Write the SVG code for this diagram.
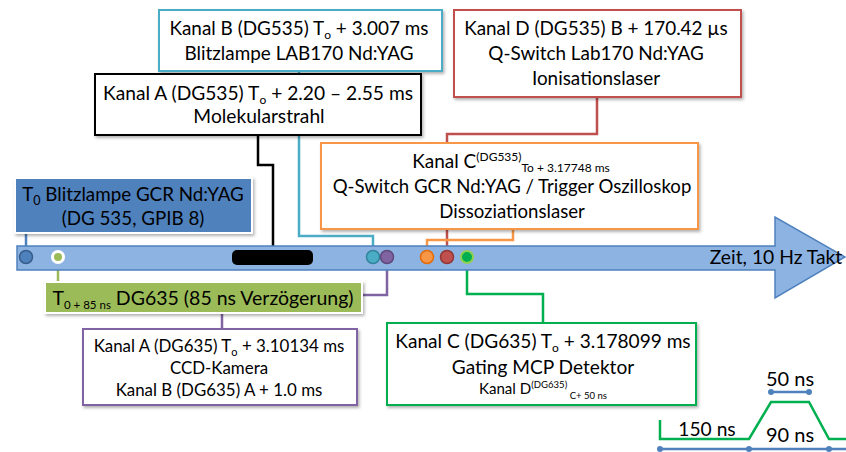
<svg xmlns="http://www.w3.org/2000/svg" width="846" height="452" viewBox="0 0 846 452" font-size="19">
<defs>
<filter id="sh" x="-5%" y="-10%" width="115%" height="130%"><feDropShadow dx="1.5" dy="2" stdDeviation="1.5" flood-color="#000" flood-opacity="0.3"/></filter>
</defs>
<style>
text{font-family:Lato,"Open Sans","Liberation Sans",sans-serif;fill:#000;text-anchor:middle}
.box{fill:#fff;stroke-width:2;filter:url(#sh)}
.c{fill:none;stroke-width:2.5}
.dot{stroke-width:1.5}
</style>
<rect width="846" height="452" fill="#fff"/>
<g id="connectors">
<path class="c" d="M26,233 V250" stroke="#4f81bd" stroke-width="2"/>
<path class="c" d="M58,264 V282" stroke="#9bbb59"/>
<path class="c" d="M258,135 V165 H273 V250" stroke="#000"/>
<path class="c" d="M299,71 V236 H373 V250" stroke="#4bacc6"/>
<path class="c" d="M597,97 V134 H447 V250" stroke="#c0504d"/>
<path class="c" d="M513,229 V240 H427 V250" stroke="#f79646"/>
<path class="c" d="M387,264 V295 H362" stroke="#8064a2"/>
<path class="c" d="M222,313 V329" stroke="#8064a2"/>
<path class="c" d="M467,264 V294 H543 V323" stroke="#00b050"/>
</g>
<g id="timeline">
<path d="M17,246 H775 V217 L845,257 L775,298 V270 H17 Z" fill="#8db3e2" stroke="#4f81bd" stroke-width="1.5"/>
<rect x="232" y="250" width="81" height="15" rx="5" fill="#000"/>
<text x="776" y="264" font-size="19.3">Zeit, 10 Hz Takt</text>
<circle class="dot" cx="26" cy="257" r="6.5" fill="#4f81bd" stroke="#385d8a"/>
<circle cx="58" cy="257" r="5.5" fill="#9bbb59" stroke="#fff" stroke-width="3"/>
<circle class="dot" cx="373" cy="257" r="6.5" fill="#4bacc6" stroke="#31849b"/>
<circle class="dot" cx="387" cy="257" r="6.5" fill="#8064a2" stroke="#5f497a"/>
<circle class="dot" cx="427" cy="257" r="6.5" fill="#f79646" stroke="#e36c09"/>
<circle class="dot" cx="447" cy="257" r="6.5" fill="#c0504d" stroke="#943634"/>
<circle cx="467" cy="257" r="6" fill="#00b050" stroke="#92d050" stroke-width="2"/>
</g>
<g id="kanalB535">
<rect class="box" x="159" y="10" width="283" height="61" stroke="#4bacc6"/>
<text x="299" y="35" font-size="18.9">Kanal B (DG535) T<tspan font-size="12" dy="4">o</tspan><tspan dy="-4"> + 3.007 ms</tspan></text>
<text x="299" y="60" font-size="18.9">Blitzlampe LAB170 Nd:YAG</text>
</g>
<g id="kanalA535">
<rect class="box" x="95" y="74" width="326" height="61" stroke="#000"/>
<text x="258" y="100" font-size="19.2">Kanal A (DG535) T<tspan font-size="12" dy="4">o</tspan><tspan dy="-4"> + 2.20 – 2.55 ms</tspan></text>
<text x="259" y="123" font-size="19.2">Molekularstrahl</text>
</g>
<g id="kanalD535">
<rect class="box" x="454" y="10" width="287" height="87" stroke="#c0504d"/>
<text x="596" y="35" font-size="18.9">Kanal D (DG535) B + 170.42 µs</text>
<text x="596" y="60" font-size="18.9">Q-Switch Lab170 Nd:YAG</text>
<text x="596" y="85" font-size="18.9">Ionisationslaser</text>
</g>
<g id="kanalC535">
<rect class="box" x="321" y="143" width="377" height="86" stroke="#f79646"/>
<text x="511" y="168" font-size="19">Kanal C<tspan font-size="12" dy="-7">(DG535)</tspan><tspan font-size="12" dy="11">To + 3.17748 ms</tspan></text>
<text x="512" y="193" font-size="18.6">Q-Switch GCR Nd:YAG / Trigger Oszilloskop</text>
<text x="512" y="218" font-size="18.6">Dissoziationslaser</text>
</g>
<g id="t0">
<rect x="15" y="178" width="237" height="55" fill="#4f81bd" stroke="#fff" stroke-width="2" filter="url(#sh)"/>
<text x="133" y="201" font-size="18.8">T<tspan font-size="12.5" dy="4">0</tspan><tspan dy="-4"> Blitzlampe GCR Nd:YAG</tspan></text>
<text x="133" y="225" font-size="18.8">(DG 535, GPIB 8)</text>
</g>
<g id="t085">
<rect x="45" y="282" width="317" height="31" fill="#9bbb59" stroke="#fff" stroke-width="2" filter="url(#sh)"/>
<text x="203" y="305" font-size="19.5">T<tspan font-size="11.5" dy="4">0 + 85 ns</tspan><tspan dy="-4"> DG635 (85 ns Verzögerung)</tspan></text>
</g>
<g id="kanalA635">
<rect class="box" x="83" y="329" width="274" height="76" stroke="#8064a2"/>
<text x="219" y="352" font-size="16.9">Kanal A (DG635) T<tspan font-size="11" dy="4">o</tspan><tspan dy="-4"> + 3.10134 ms</tspan></text>
<text x="219" y="374" font-size="16.9">CCD-Kamera</text>
<text x="219" y="396" font-size="16.9">Kanal B (DG635) A + 1.0 ms</text>
</g>
<g id="kanalC635">
<rect class="box" x="387" y="323" width="309" height="82" stroke="#00b050"/>
<text x="543" y="348" font-size="19.1">Kanal C (DG635) T<tspan font-size="12" dy="4">o</tspan><tspan dy="-4"> + 3.178099 ms</tspan></text>
<text x="543" y="374" font-size="19.1">Gating MCP Detektor</text>
<text x="543" y="394" font-size="15" textLength="128" lengthAdjust="spacingAndGlyphs">Kanal D<tspan font-size="9.5" dy="-6">(DG635)</tspan><tspan font-size="9.5" dy="11"> C+ 50 ns</tspan></text>
</g>
<g id="pulse">
<path d="M660,420 V439 H749 L771,402 H809 L829,439 H846" fill="none" stroke="#00b050" stroke-width="2.5"/>
<path d="M771,392 H809 M660,449 H846" fill="none" stroke="#4f81bd" stroke-width="2.5"/>
<g fill="#4f81bd">
<circle cx="771" cy="392" r="3"/><circle cx="809" cy="392" r="3"/>
<circle cx="660" cy="449" r="3"/><circle cx="749" cy="449" r="3"/><circle cx="829" cy="449" r="3"/>
</g>
<text x="790" y="386" font-size="20">50 ns</text>
<text x="707" y="436" font-size="19.2">150 ns</text>
<text x="790" y="442" font-size="20">90 ns</text>
</g>
</svg>
